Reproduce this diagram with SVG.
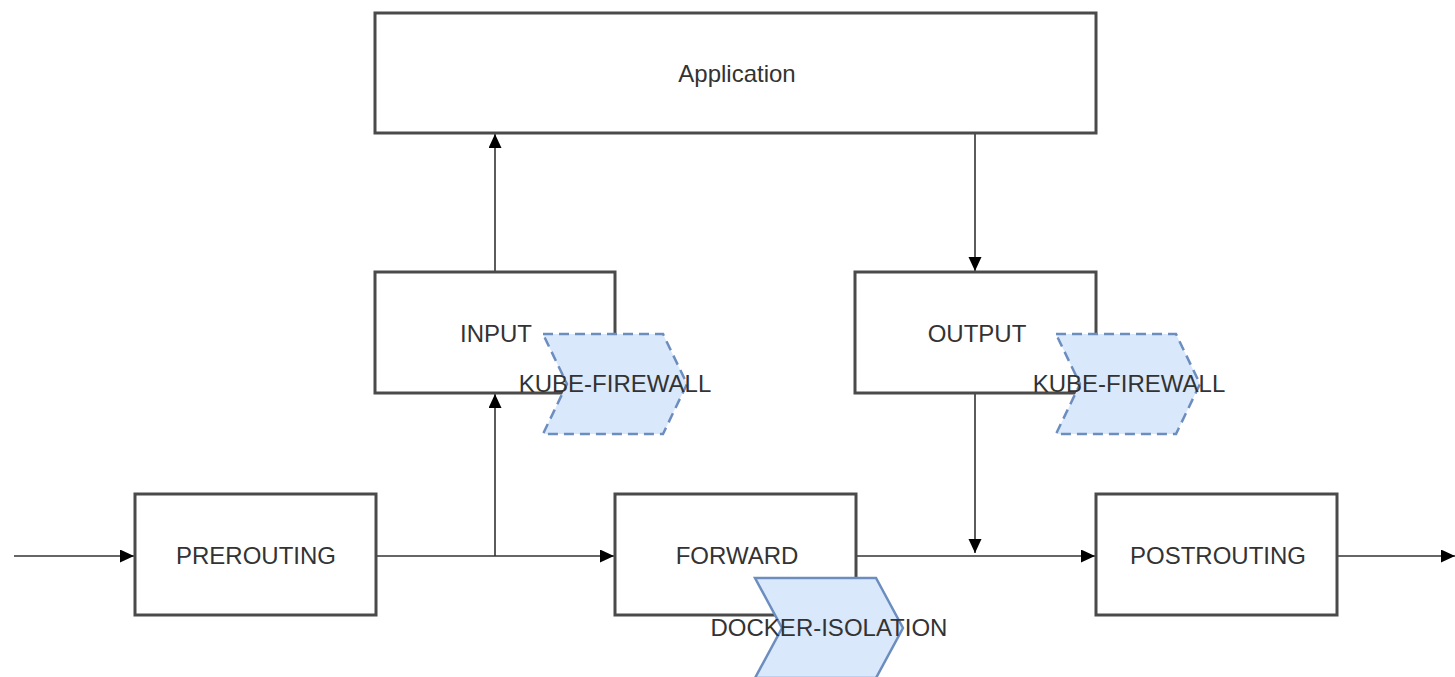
<svg xmlns="http://www.w3.org/2000/svg" width="1455" height="677" viewBox="0 0 1455 677">
<defs>
<style>
.box{fill:#ffffff;stroke:#4a4a4a;stroke-width:3}
.lbl{font-family:"Liberation Sans",Arial,sans-serif;font-size:24px;fill:#333333;text-anchor:middle;dominant-baseline:central}
.edge{fill:none;stroke:#333333;stroke-width:1.6}
.chev{fill:#dae8fc;stroke:#6c8ebf;stroke-width:2.5}
.dash{stroke-dasharray:10,6}
</style>
<marker id="arr" markerUnits="userSpaceOnUse" markerWidth="15" markerHeight="14" refX="14" refY="6.5" orient="auto">
<path d="M0,0 L14,6.5 L0,13 z" fill="#000000"/>
</marker>
</defs>
<rect width="1455" height="677" fill="#ffffff"/>
<g id="connectors">
<path class="edge" d="M14,556 L134,556" marker-end="url(#arr)"/>
<path class="edge" d="M376,556 L614,556" marker-end="url(#arr)"/>
<path class="edge" d="M495,556 L495,394" marker-end="url(#arr)"/>
<path class="edge" d="M495,272 L495,134" marker-end="url(#arr)"/>
<path class="edge" d="M975,133 L975,271" marker-end="url(#arr)"/>
<path class="edge" d="M975,393 L975,553" marker-end="url(#arr)"/>
<path class="edge" d="M856,556 L1095,556" marker-end="url(#arr)"/>
<path class="edge" d="M1337,556 L1455,556" marker-end="url(#arr)"/>
</g>
<g id="application">
<rect class="box" x="375" y="13" width="721" height="120"/>
<text class="lbl" x="737" y="73">Application</text>
</g>
<g id="input">
<rect class="box" x="375" y="272" width="240" height="121"/>
<text class="lbl" x="496" y="333">INPUT</text>
</g>
<g id="output">
<rect class="box" x="855" y="272" width="241" height="121"/>
<text class="lbl" x="977" y="333">OUTPUT</text>
</g>
<g id="prerouting">
<rect class="box" x="135" y="494" width="241" height="121"/>
<text class="lbl" x="256" y="555">PREROUTING</text>
</g>
<g id="forward">
<rect class="box" x="615" y="494" width="241" height="121"/>
<text class="lbl" x="737" y="555">FORWARD</text>
</g>
<g id="postrouting">
<rect class="box" x="1096" y="494" width="241" height="121"/>
<text class="lbl" x="1218" y="555">POSTROUTING</text>
</g>
<g id="kube-firewall-input">
<path class="chev dash" d="M543,334 L663,334 L687,384 L663,434 L543,434 L567,384 Z"/>
<text class="lbl" x="615" y="383">KUBE-FIREWALL</text>
</g>
<g id="kube-firewall-output">
<path class="chev dash" d="M1056,334 L1176,334 L1200,384 L1176,434 L1056,434 L1080,384 Z"/>
<text class="lbl" x="1129" y="383">KUBE-FIREWALL</text>
</g>
<g id="docker-isolation">
<path class="chev" d="M755,578 L876,578 L903,628 L876,678 L755,678 L782,628 Z"/>
<text class="lbl" x="829" y="627">DOCKER-ISOLATION</text>
</g>
</svg>
